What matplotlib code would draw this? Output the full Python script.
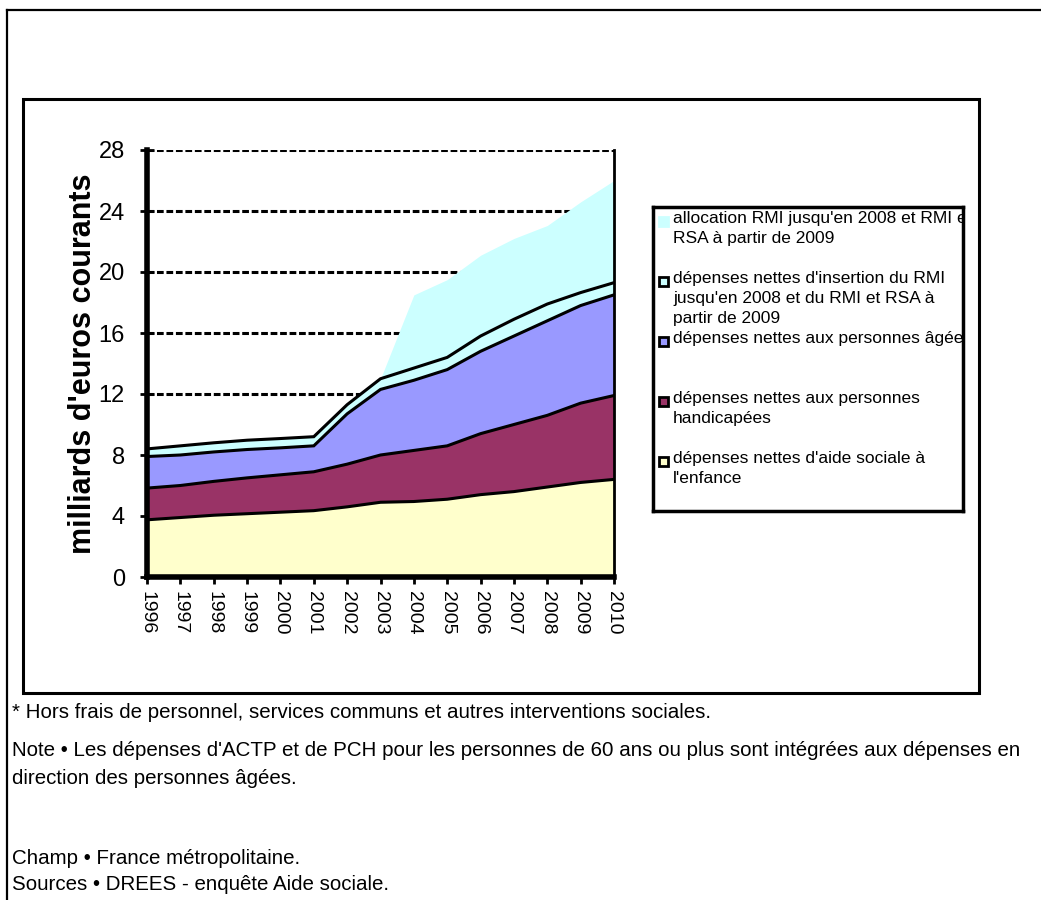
import numpy as np
import matplotlib
matplotlib.use("Agg")
import matplotlib.pyplot as plt
from matplotlib.patches import Rectangle
from matplotlib.lines import Line2D

plt.rcParams['font.family'] = ['Liberation Sans', 'DejaVu Sans']

years = [1996, 1997, 1998, 1999, 2000, 2001, 2002, 2003, 2004, 2005, 2006, 2007, 2008, 2009, 2010]

# milliards d'euros courants, stacked from the bottom
enfance = [3.75, 3.9, 4.05, 4.15, 4.25, 4.35, 4.6, 4.9, 4.95, 5.1, 5.4, 5.6, 5.9, 6.2, 6.4]
handicap = [2.08, 2.1, 2.22, 2.35, 2.45, 2.55, 2.8, 3.1, 3.35, 3.5, 4.0, 4.4, 4.7, 5.2, 5.5]
agees = [2.07, 2.0, 1.93, 1.86, 1.77, 1.7, 3.3, 4.3, 4.6, 5.0, 5.4, 5.8, 6.2, 6.4, 6.6]
insertion = [0.5, 0.6, 0.6, 0.61, 0.61, 0.6, 0.6, 0.7, 0.8, 0.8, 1.0, 1.1, 1.1, 0.85, 0.8]
allocation = [0, 0, 0, 0, 0, 0, 0, 0, 4.8, 5.1, 5.3, 5.3, 5.15, 5.95, 6.7]

series = [enfance, handicap, agees, insertion, allocation]
colors = ['#FFFFCC', '#993366', '#9999FF', '#CCFFFF', '#CCFFFF']
edged = [True, True, True, True, False]
labels = [
    "dépenses nettes d'aide sociale à\nl'enfance",
    "dépenses nettes aux personnes\nhandicapées",
    "dépenses nettes aux personnes âgées",
    "dépenses nettes d'insertion du RMI\njusqu'en 2008 et du RMI et RSA à\npartir de 2009",
    "allocation RMI jusqu'en 2008 et RMI et\nRSA à partir de 2009",
]
yticks = [0, 4, 8, 12, 16, 20, 24, 28]

notes = [
    "* Hors frais de personnel, services communs et autres interventions sociales.",
    "Note \u2022 Les dépenses d'ACTP et de PCH pour les personnes de 60 ans ou plus sont intégrées aux dépenses en",
    "direction des personnes âgées.",
    "Champ \u2022 France métropolitaine.",
    "Sources \u2022 DREES - enquête Aide sociale.",
]
note_y = [713, 750, 778, 858, 885]

W, H = 1041, 900
fig = plt.figure(figsize=(W / 100, H / 100), dpi=100)

# outer frame (top and left only) and chart frame
fig.add_artist(Line2D([7 / W, 1], [1 - 10 / H, 1 - 10 / H], color='black', lw=1.6))
fig.add_artist(Line2D([7 / W, 7 / W], [0, 1 - 10 / H], color='black', lw=1.6))
fig.add_artist(Rectangle((23 / W, 1 - 693 / H), 956 / W, 594 / H, fill=False,
                         ec='black', lw=2.2))

ax = fig.add_axes([147 / W, 1 - 577 / H, 467 / W, 427 / H])
ax.set_facecolor('white')

bottom = np.zeros(len(years))
for vals, col, edge in zip(series, colors, edged):
    top = bottom + np.array(vals)
    ax.fill_between(years, bottom, top, color=col, lw=0, zorder=2)
    if edge:
        ax.plot(years, top, color='black', lw=2.2, zorder=3, solid_joinstyle='miter')
    bottom = top

ax.set_xlim(1996, 2010)
ax.set_ylim(0, 28)
ax.set_yticks(yticks)
ax.set_xticks(years)
ax.set_xticklabels([str(y) for y in years], rotation=-90, fontsize=14)
ax.set_yticklabels([str(v) for v in yticks], fontsize=17)
for v in yticks[1:]:
    ax.axhline(v, color='black', lw=2.2, ls=(0, (2.2, 0.9)), zorder=1)

ax.tick_params(axis='y', direction='inout', length=10, width=2, pad=11)
ax.tick_params(axis='x', direction='out', length=5, width=2, pad=5)
ax.spines['left'].set_linewidth(4)
ax.spines['bottom'].set_linewidth(4)
ax.spines['right'].set_linewidth(2)
ax.spines['top'].set_visible(False)
ax.set_ylabel("milliards d'euros courants", fontsize=22, fontweight='bold', labelpad=0)

# legend box
lax = fig.add_axes([653 / W, 1 - 511 / H, 310 / W, 304 / H])
lax.set_xlim(0, 310)
lax.set_ylim(304, 0)
lax.set_xticks([])
lax.set_yticks([])
for s in lax.spines.values():
    s.set_linewidth(2.5)
for i, (lab, col, edge) in enumerate(zip(labels[::-1], colors[::-1], edged[::-1])):
    y0 = 14 + 60 * i
    lax.add_patch(Rectangle((6, y0 - 4.5), 9, 9, fc=col,
                            ec='black' if edge else col, lw=2))
    t = lax.text(20, y0 - 10, lab, fontsize=12.5, va='top', ha='left',
                 linespacing=1.42)
    t.set_clip_on(True)

for txt, y in zip(notes, note_y):
    fig.text(12 / W, 1 - y / H, txt, fontsize=14.8, va='center', ha='left')

fig.savefig('out.png', dpi=100)
